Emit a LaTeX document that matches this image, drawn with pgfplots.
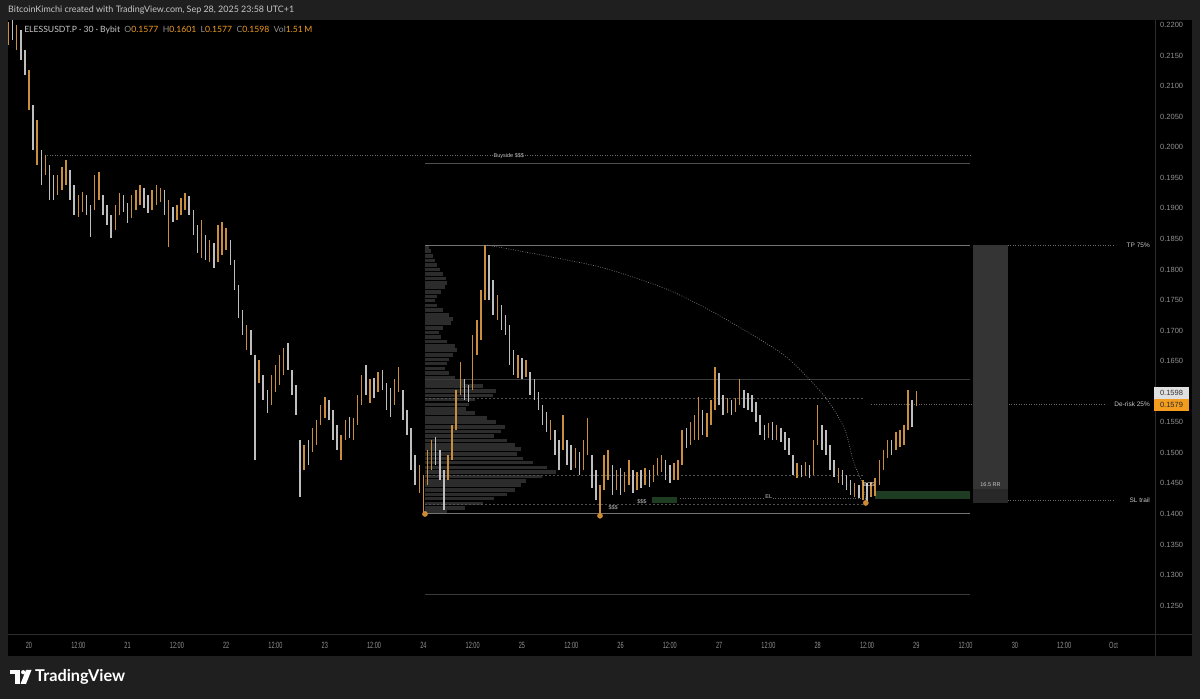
\documentclass[border=0pt]{standalone}
\usepackage{graphicx}
\usepackage{pgfplots}
\pgfplotsset{compat=1.18}
\usepackage{pgfplotstable}
\usepackage{fontspec}
\setmainfont{Lato}
\newfontfamily\timef[FakeStretch=0.62]{Liberation Sans}
\newfontfamily\pricef{Liberation Sans}
\definecolor{bg}{RGB}{31,31,31}
\definecolor{candO}{RGB}{201,142,62}
\definecolor{candW}{RGB}{190,190,190}
\definecolor{prof}{RGB}{44,44,44}
\definecolor{lineg}{RGB}{115,115,115}
\definecolor{dimg}{RGB}{58,58,58}
\definecolor{midg}{RGB}{80,80,80}
\definecolor{dotg}{RGB}{105,105,105}
\definecolor{grn}{RGB}{30,60,34}
\definecolor{boxg}{RGB}{52,52,52}
\definecolor{boxd}{RGB}{40,40,40}
\definecolor{dotc}{RGB}{204,138,52}
\definecolor{axtxt}{RGB}{145,145,145}
\definecolor{lbl}{RGB}{200,200,200}
\definecolor{tvor}{RGB}{242,157,31}
\definecolor{sep}{RGB}{45,45,45}

\pgfplotstableread{
h lo hi c
-5 0.2167 0.2205 1
-4 0.2176 0.2208 0
-3 0.2159 0.2200 1
-2 0.2143 0.2192 0
-1 0.2118 0.2159 0
0 0.2061 0.2126 1
1 0.1996 0.2069 0
2 0.1971 0.2045 1
3 0.1938 0.1996 0
4 0.1955 0.1988 1
5 0.1914 0.1971 0
6 0.1914 0.1955 0
7 0.1922 0.1955 1
8 0.1930 0.1967 1
9 0.1938 0.1979 1
10 0.1914 0.1963 0
11 0.1889 0.1938 0
12 0.1886 0.1922 1
13 0.1894 0.1927 1
14 0.1889 0.1922 0
15 0.1853 0.1906 0
16 0.1897 0.1955 1
17 0.1914 0.1960 1
18 0.1889 0.1922 0
19 0.1873 0.1906 0
20 0.1852 0.1889 0
21 0.1865 0.1906 1
22 0.1889 0.1925 1
23 0.1894 0.1922 0
24 0.1876 0.1909 0
25 0.1884 0.1922 1
26 0.1897 0.1930 1
27 0.1906 0.1938 1
28 0.1901 0.1933 0
29 0.1892 0.1922 0
30 0.1897 0.1930 1
31 0.1906 0.1938 1
32 0.1911 0.1933 1
33 0.1889 0.1930 0
34 0.1837 0.1914 1
35 0.1878 0.1902 0
36 0.1881 0.1906 1
37 0.1889 0.1917 1
38 0.1897 0.1925 1
39 0.1889 0.1920 0
40 0.1857 0.1897 0
41 0.1827 0.1873 0
42 0.1819 0.1881 1
43 0.1816 0.1857 0
44 0.1812 0.1848 1
45 0.1803 0.1843 0
46 0.1812 0.1873 1
47 0.1824 0.1878 1
48 0.1832 0.1868 1
49 0.1807 0.1848 0
50 0.1767 0.1816 0
51 0.1721 0.1775 0
52 0.1693 0.1734 0
53 0.1669 0.1709 1
54 0.1660 0.1701 0
55 0.1488 0.1660 0
56 0.1614 0.1652 1
57 0.1587 0.1628 0
58 0.1565 0.1603 0
59 0.1578 0.1628 1
60 0.1600 0.1644 1
61 0.1611 0.1660 1
62 0.1628 0.1672 1
63 0.1636 0.1680 0
64 0.1595 0.1636 0
65 0.1562 0.1611 0
66 0.1428 0.1521 0
67 0.1472 0.1513 1
68 0.1480 0.1521 0
69 0.1502 0.1541 1
70 0.1513 0.1554 1
71 0.1546 0.1578 1
72 0.1557 0.1592 1
73 0.1554 0.1587 0
74 0.1521 0.1570 0
75 0.1505 0.1546 0
76 0.1488 0.1529 1
77 0.1521 0.1554 1
78 0.1524 0.1559 0
79 0.1521 0.1557 1
80 0.1546 0.1595 1
81 0.1578 0.1628 1
82 0.1595 0.1644 0
83 0.1582 0.1620 1
84 0.1590 0.1623 0
85 0.1600 0.1633 1
86 0.1603 0.1636 0
87 0.1570 0.1614 0
88 0.1559 0.1606 0
89 0.1578 0.1620 1
90 0.1600 0.1641 1
91 0.1554 0.1603 0
92 0.1529 0.1570 0
93 0.1472 0.1541 0
94 0.1448 0.1497 0
95 0.1434 0.1480 1
96 0.1400 0.1464 1
97 0.1448 0.1505 1
98 0.1472 0.1521 1
99 0.1480 0.1526 0
100 0.1456 0.1505 0
101 0.1407 0.1472 0
102 0.1456 0.1497 1
103 0.1488 0.1546 1
104 0.1538 0.1603 1
105 0.1595 0.1649 1
106 0.1587 0.1620 0
107 0.1583 0.1611 0
108 0.1603 0.1693 1
109 0.1660 0.1718 1
110 0.1685 0.1767 1
111 0.1750 0.1840 1
112 0.1750 0.1824 0
113 0.1726 0.1783 0
114 0.1718 0.1758 1
115 0.1701 0.1742 0
116 0.1693 0.1726 0
117 0.1644 0.1709 0
118 0.1628 0.1669 0
119 0.1623 0.1660 1
120 0.1620 0.1655 0
121 0.1624 0.1652 1
122 0.1595 0.1633 0
123 0.1587 0.1620 0
124 0.1570 0.1600 0
125 0.1546 0.1578 0
126 0.1534 0.1567 0
127 0.1521 0.1554 1
128 0.1497 0.1538 0
129 0.1472 0.1521 0
130 0.1505 0.1562 1
131 0.1480 0.1521 0
132 0.1472 0.1513 0
133 0.1475 0.1508 1
134 0.1464 0.1502 0
135 0.1472 0.1521 1
136 0.1497 0.1557 1
137 0.1443 0.1497 0
138 0.1423 0.1472 0
139 0.1397 0.1448 1
140 0.1439 0.1497 1
141 0.1456 0.1505 1
142 0.1431 0.1480 0
143 0.1439 0.1472 1
144 0.1431 0.1475 0
145 0.1436 0.1469 1
146 0.1448 0.1488 1
147 0.1434 0.1472 0
148 0.1439 0.1469 1
149 0.1443 0.1472 0
150 0.1448 0.1475 1
151 0.1444 0.1472 0
152 0.1452 0.1480 1
153 0.1464 0.1492 1
154 0.1469 0.1497 1
155 0.1456 0.1488 0
156 0.1451 0.1480 0
157 0.1456 0.1483 1
158 0.1456 0.1488 1
159 0.1480 0.1538 1
160 0.1508 0.1541 0
161 0.1513 0.1551 1
162 0.1521 0.1562 1
163 0.1521 0.1592 1
164 0.1529 0.1570 0
165 0.1526 0.1565 1
166 0.1546 0.1587 1
167 0.1570 0.1641 1
168 0.1578 0.1631 0
169 0.1562 0.1595 0
170 0.1565 0.1590 1
171 0.1562 0.1587 0
172 0.1567 0.1590 1
173 0.1578 0.1620 1
174 0.1574 0.1603 0
175 0.1570 0.1598 0
176 0.1567 0.1595 0
177 0.1551 0.1583 0
178 0.1529 0.1562 0
179 0.1521 0.1546 0
180 0.1524 0.1549 1
181 0.1521 0.1551 0
182 0.1521 0.1546 1
183 0.1518 0.1541 0
184 0.1505 0.1534 0
185 0.1497 0.1525 0
186 0.1464 0.1497 0
187 0.1459 0.1484 1
188 0.1461 0.1480 0
189 0.1462 0.1485 1
190 0.1459 0.1480 0
191 0.1464 0.1521 1
192 0.1513 0.1578 1
193 0.1505 0.1546 0
194 0.1497 0.1538 0
195 0.1472 0.1513 0
196 0.1461 0.1488 0
197 0.1451 0.1475 1
198 0.1448 0.1472 0
199 0.1439 0.1464 0
200 0.1431 0.1456 0
201 0.1428 0.1451 1
202 0.1426 0.1448 0
203 0.1423 0.1456 1
204 0.1418 0.1451 0
205 0.1428 0.1452 1
206 0.1430 0.1459 1
207 0.1448 0.1488 1
208 0.1472 0.1505 1
209 0.1492 0.1521 1
210 0.1497 0.1521 0
211 0.1505 0.1534 1
212 0.1510 0.1538 1
213 0.1513 0.1546 1
214 0.1538 0.1603 1
215 0.1543 0.1587 0
216 0.1577 0.1601 1
}\candles

\pgfplotstableread{
p u
0.1837 0.97
0.1830 1.46
0.1822 1.95
0.1815 2.43
0.1807 2.92
0.1800 3.65
0.1793 4.38
0.1785 5.11
0.1778 5.36
0.1771 4.87
0.1763 3.89
0.1756 2.92
0.1749 2.43
0.1741 2.92
0.1734 4.38
0.1726 5.84
0.1719 6.82
0.1712 6.33
0.1704 4.38
0.1697 3.41
0.1690 3.89
0.1682 5.36
0.1675 7.30
0.1668 7.79
0.1660 6.82
0.1653 5.84
0.1646 5.36
0.1638 4.87
0.1631 5.84
0.1623 7.30
0.1616 9.74
0.1609 14.1
0.1601 17.5
0.1594 16.6
0.1587 12.2
0.1579 10.7
0.1572 10.2
0.1565 12.2
0.1557 15.1
0.1550 17.5
0.1542 19.5
0.1535 18.5
0.1528 17.0
0.1520 20.0
0.1513 21.9
0.1506 23.4
0.1498 22.4
0.1491 23.9
0.1484 26.3
0.1476 29.7
0.1469 32.1
0.1461 28.7
0.1454 24.8
0.1447 23.4
0.1439 21.9
0.1432 20.0
0.1425 17.0
0.1417 14.1
0.1410 9.74
0.1403 5.36
}\profile

\begin{document}
\begin{tikzpicture}
\fill[bg] (0,0) rectangle (1200pt,699pt);
\fill[black] (8pt,43pt) rectangle (1192pt,679pt);
\begin{axis}[
  at={(8pt,66pt)}, anchor=south west,
  width=1147pt, height=613pt, scale only axis,
  xmin=-5.11, xmax=274.1, ymin=0.12052, ymax=0.22082,
  axis line style={draw=none},
  axis background/.style={fill=black},
  major tick length=0pt, tick style={draw=none},
  xtick={0,12,...,264},
  xticklabels={20,12:00,21,12:00,22,12:00,23,12:00,24,12:00,25,12:00,26,12:00,27,12:00,28,12:00,29,12:00,30,12:00,Oct},
  xticklabel style={font=\timef\fontsize{9}{9}\selectfont, text=axtxt, anchor=center, yshift=-12pt},
  ytick={0.125,0.13,0.135,0.14,0.145,0.15,0.155,0.165,0.17,0.175,0.18,0.185,0.19,0.195,0.2,0.205,0.21,0.215,0.22},
  yticklabels={0.1250,0.1300,0.1350,0.1400,0.1450,0.1500,0.1550,0.1650,0.1700,0.1750,0.1800,0.1850,0.1900,0.1950,0.2000,0.2050,0.2100,0.2150,0.2200},
  yticklabel pos=right,
  yticklabel style={font=\pricef\fontsize{7.5}{8}\selectfont, text=axtxt, anchor=west, inner sep=0pt, xshift=5pt},
]
% volume profile
\addplot[forget plot, draw=prof, line width=3.6pt, mark=none, quiver={u=\thisrow{u}, v=0}] table[x expr=96.3, y=p] {\profile};
% range lines
\addplot[forget plot, dotg, line width=0.6pt, dash pattern=on 1pt off 1.5pt] coordinates {(4.4,0.1986)(229.1,0.1986)};
\addplot[forget plot, midg, line width=0.7pt] coordinates {(96.4,0.1973)(229.1,0.1973)};
\addplot[forget plot, lineg, line width=0.9pt] coordinates {(96.4,0.1840)(229.1,0.1840)};
\addplot[forget plot, dotg, line width=0.6pt, dash pattern=on 1pt off 1.5pt] coordinates {(238.3,0.1840)(264,0.1840)};
\addplot[forget plot, dimg, line width=0.6pt] coordinates {(96.4,0.1621)(229.1,0.1621)};
\addplot[forget plot, midg, line width=0.6pt, dash pattern=on 2pt off 2pt] coordinates {(96.4,0.1590)(203.5,0.1590)};
\addplot[forget plot, dotg, line width=0.6pt, dash pattern=on 1pt off 1.5pt] coordinates {(205,0.1579)(262,0.1579)};
\addplot[forget plot, midg, line width=0.6pt, dash pattern=on 2pt off 2pt] coordinates {(96.4,0.1464)(203.5,0.1464)};
\addplot[forget plot, midg, line width=0.6pt, dash pattern=on 2pt off 2pt] coordinates {(96.4,0.1415)(203.5,0.1415)};
\addplot[forget plot, dotg, line width=0.6pt, dash pattern=on 1pt off 1.5pt] coordinates {(158.5,0.1425)(203.7,0.1425)};
\addplot[forget plot, dotg, line width=0.6pt, dash pattern=on 1pt off 1.5pt] coordinates {(238.3,0.1423)(264,0.1423)};
\addplot[forget plot, lineg, line width=0.9pt] coordinates {(96.4,0.1400)(229.1,0.1400)};
\addplot[forget plot, dimg, line width=0.8pt] coordinates {(96.4,0.1269)(229.1,0.1269)};
% boxes
\addplot[forget plot, fill=grn, draw=none] coordinates {(151.7,0.1418)(157.7,0.1418)(157.7,0.1428)(151.7,0.1428)} -- cycle;
\addplot[forget plot, fill=grn, draw=none] coordinates {(205.9,0.1425)(229.1,0.1425)(229.1,0.1438)(205.9,0.1438)} -- cycle;
\addplot[forget plot, fill=boxg, draw=none] coordinates {(229.8,0.1440)(238.3,0.1440)(238.3,0.1840)(229.8,0.1840)} -- cycle;
\addplot[forget plot, fill=boxd, draw=none] coordinates {(229.8,0.1418)(238.3,0.1418)(238.3,0.1440)(229.8,0.1440)} -- cycle;
% arc
\addplot[forget plot, smooth, color=lbl!70!black, line width=0.6pt, dash pattern=on 0.8pt off 1.6pt] coordinates {(111.5,0.1840)(124.4,0.1824)(139.0,0.1804)(151.2,0.1778)(158.5,0.1758)(168.2,0.1724)(182.1,0.1668)(187.7,0.1636)(194.3,0.1587)(198.6,0.1538)(200.6,0.1488)(202.8,0.1451)(203.7,0.1423)};
% symbol legend
\node[anchor=west, inner sep=0pt] at (axis cs:-1.2,0.2192) {\resizebox{288pt}{!}{{\color{lbl}ELESSUSDT.P \textperiodcentered\ 30 \textperiodcentered\ Bybit}\ \ {\color{axtxt}O}{\color{tvor}0.1577}\ \ {\color{axtxt}H}{\color{tvor}0.1601}\ \ {\color{axtxt}L}{\color{tvor}0.1577}\ \ {\color{axtxt}C}{\color{tvor}0.1598}\ \ {\color{axtxt}Vol}{\color{tvor}1.51\,M}}};
% candles
\addplot[forget plot, draw=candW, line width=1.5pt, mark=none, quiver={u=0, v=\thisrow{hi}-\thisrow{lo}}, restrict expr to domain={\thisrow{c}}{0:0}] table[x=h, y=lo] {\candles};
\addplot[forget plot, draw=candO, line width=1.5pt, mark=none, quiver={u=0, v=\thisrow{hi}-\thisrow{lo}}, restrict expr to domain={\thisrow{c}}{1:1}] table[x=h, y=lo] {\candles};
% swing lows
\addplot[forget plot, only marks, mark=*, mark size=2.6pt, color=dotc] coordinates {(96.4,0.1400)(139.0,0.1397)(203.7,0.1418)};
% labels
\node[fill=black, inner sep=1pt, text=lbl, font=\pricef\fontsize{5.5}{6}\selectfont] at (axis cs:116.8,0.1986) {Buyside \$\$\$};
\node[anchor=east, inner sep=0pt, text=lbl, font=\pricef\fontsize{6.5}{7}\selectfont] at (axis cs:272.9,0.1840) {TP 75\%};
\node[anchor=east, inner sep=0pt, text=lbl, font=\pricef\fontsize{6.5}{7}\selectfont] at (axis cs:272.9,0.1579) {De-risk 25\%};
\node[anchor=east, inner sep=0pt, text=lbl, font=\pricef\fontsize{6.5}{7}\selectfont] at (axis cs:272.9,0.1423) {SL trail};
\node[inner sep=0pt, text=lbl, font=\pricef\fontsize{5.5}{6}\selectfont] at (axis cs:234.05,0.1448) {16.5 RR};
\node[inner sep=0.5pt, fill=black, text=lbl, font=\pricef\fontsize{5.5}{6}\selectfont] at (axis cs:180.1,0.1428) {EL};
\node[inner sep=0pt, text=lbl, font=\pricef\fontsize{5.5}{6}\selectfont] at (axis cs:142.2,0.1410) {\$\$\$};
\node[inner sep=0pt, text=lbl, font=\pricef\fontsize{5.5}{6}\selectfont] at (axis cs:149.2,0.1420) {\$\$\$};
\node[inner sep=0pt, text=white, font=\pricef\fontsize{5.5}{6}\selectfont] at (axis cs:204.5,0.1448) {BOS};
\end{axis}
\begin{scope}[shift={(0,699pt)}, x=1pt, y=-1pt]
\draw[sep, line width=0.8pt] (8,634.5) -- (1192,634.5);
\draw[sep, line width=0.8pt] (1155.5,20) -- (1155.5,656);
\node[anchor=west, inner sep=0pt, text=lbl] at (8,10) {\resizebox{286pt}{!}{BitcoinKimchi created with TradingView.com, Sep 28, 2025 23:58 UTC+1}};
\fill[white!88!black] (1154,387) rectangle (1189,399);
\node[inner sep=0pt, text=black!80, font=\pricef\fontsize{7.5}{8}\selectfont] at (1171.5,393) {0.1598};
\fill[tvor] (1154,399.5) rectangle (1189,411);
\node[inner sep=0pt, text=black!85, font=\pricef\fontsize{7.5}{8}\selectfont] at (1171.5,405.2) {0.1579};
% logo
\fill[white] (10,670) rectangle (19.5,674.2);
\fill[white] (14.8,670) rectangle (19.5,684);
\fill[white] (23.2,672.2) circle (2.1);
\fill[white] (26,670) -- (31.5,670) -- (26,684) -- (20.5,684) -- cycle;
\node[anchor=west, inner sep=0pt, text=white] at (35,677) {\resizebox{90pt}{!}{\bfseries TradingView}};
\end{scope}
\end{tikzpicture}
\end{document}
